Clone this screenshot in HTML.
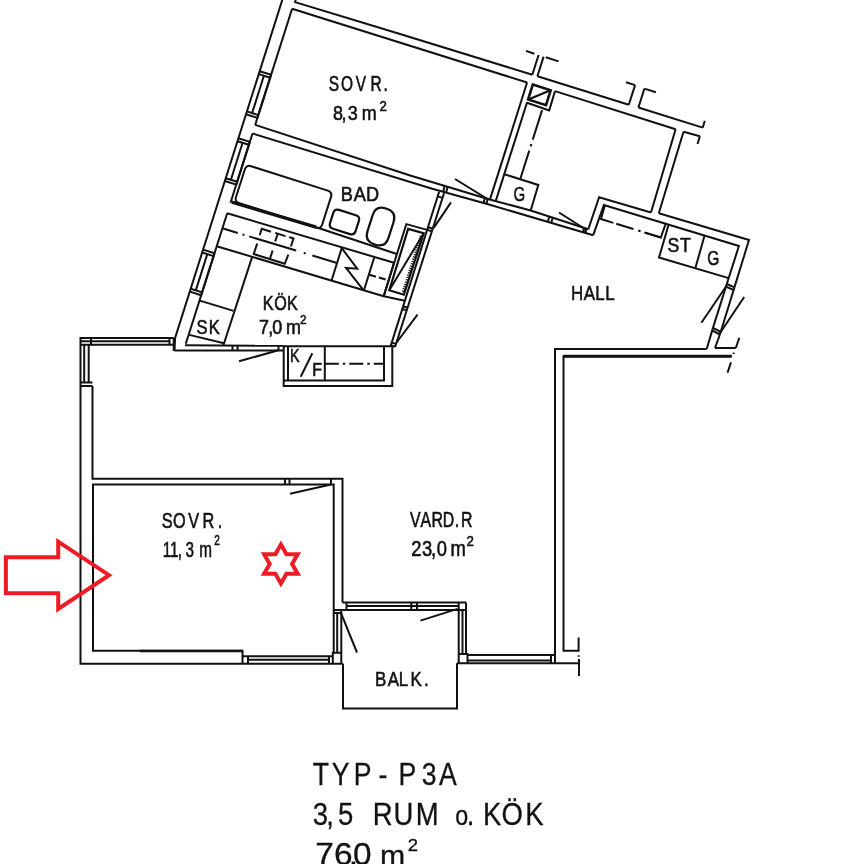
<!DOCTYPE html>
<html><head><meta charset="utf-8"><title>TYP-P3A</title>
<style>
html,body{margin:0;padding:0;background:#fff}
svg{display:block;will-change:transform}
text{font-family:"Liberation Sans",sans-serif;fill:#111}
</style></head><body>
<svg width="864" height="864" viewBox="0 0 864 864">
<g fill="none" stroke="#111" stroke-width="2.0" stroke-linecap="butt" stroke-linejoin="miter">
<polyline points="285.3,-9.6 175.1,337.9 174.5,350.6"/>
<polyline points="296.4,-2.9 295.1,2.1 397.6,33.2 532.3,74.8"/>
<line x1="532.3" y1="74.8" x2="538.6" y2="55.0"/>
<line x1="537.4" y1="76.2" x2="543.6" y2="56.6"/>
<line x1="537.4" y1="76.2" x2="628.8" y2="104.7"/>
<line x1="628.8" y1="104.7" x2="635.1" y2="85.1"/>
<line x1="638.4" y1="107.5" x2="644.4" y2="88.6"/>
<line x1="638.4" y1="107.5" x2="702.7" y2="127.6"/>
<line x1="702.7" y1="127.6" x2="704.8" y2="120.9"/>
<line x1="525.9" y1="50.9" x2="534.4" y2="53.7"/>
<line x1="545.8" y1="57.3" x2="558.6" y2="61.4"/>
<line x1="626.0" y1="82.2" x2="635.1" y2="85.1"/>
<line x1="644.4" y1="88.6" x2="655.9" y2="92.2"/>
<line x1="292.1" y1="8.8" x2="527.1" y2="82.5"/>
<line x1="555.0" y1="91.1" x2="675.6" y2="129.2"/>
<line x1="292.1" y1="8.8" x2="255.2" y2="124.9"/>
<polyline points="255.2,124.9 410.2,175.5 489.7,199.5 530.7,210.5 588.3,229.2"/>
<polyline points="252.5,133.5 432.2,188.8 487.2,204.0 593.2,235.2"/>
<line x1="252.5" y1="133.5" x2="230.5" y2="202.8"/>
<polyline points="227.2,213.2 185.8,343.8"/>
<line x1="259.7" y1="71.2" x2="271.1" y2="74.8"/>
<line x1="258.8" y1="74.1" x2="270.2" y2="77.7"/>
<line x1="246.0" y1="114.3" x2="257.4" y2="117.9"/>
<line x1="246.9" y1="111.4" x2="258.4" y2="115.1"/>
<line x1="263.9" y1="75.7" x2="252.1" y2="113.1"/>
<line x1="271.1" y1="74.8" x2="257.4" y2="117.9"/>
<line x1="238.4" y1="138.3" x2="249.8" y2="141.9"/>
<line x1="237.5" y1="141.2" x2="248.9" y2="144.8"/>
<line x1="224.8" y1="181.0" x2="236.3" y2="184.6"/>
<line x1="225.7" y1="178.2" x2="237.2" y2="181.8"/>
<line x1="242.6" y1="142.8" x2="230.9" y2="179.8"/>
<line x1="249.8" y1="141.9" x2="236.3" y2="184.6"/>
<line x1="203.1" y1="249.6" x2="214.5" y2="253.3"/>
<line x1="202.2" y1="252.5" x2="213.6" y2="256.1"/>
<line x1="189.8" y1="291.6" x2="201.2" y2="295.2"/>
<line x1="190.7" y1="288.7" x2="202.1" y2="292.4"/>
<line x1="207.3" y1="254.1" x2="195.8" y2="290.4"/>
<line x1="214.5" y1="253.3" x2="201.2" y2="295.2"/>
<line x1="527.1" y1="82.5" x2="490.0" y2="199.4"/>
<line x1="527.1" y1="102.2" x2="495.8" y2="200.9"/>
<polygon points="532.8,84.6 550.7,90.3 546.0,105.2 528.1,99.5" stroke-width="2.6"/>
<line x1="528.3" y1="99.6" x2="550.5" y2="90.2" stroke-width="2.2"/>
<polyline points="555.0,91.1 549.2,110.4 527.0,102.7"/>
<line x1="542.1" y1="110.1" x2="520.2" y2="179.2" stroke-dasharray="31 4.5 2.5 4.5 40"/>
<polyline points="504.3,174.2 538.3,185.0 530.7,210.5"/>
<line x1="675.6" y1="129.2" x2="651.0" y2="212.5"/>
<line x1="683.5" y1="131.8" x2="658.8" y2="213.2"/>
<line x1="683.5" y1="131.8" x2="699.9" y2="136.2"/>
<line x1="699.9" y1="136.2" x2="697.5" y2="144.0"/>
<polyline points="588.3,229.2 599.1,197.2 651.0,212.5"/>
<polyline points="658.8,213.2 749.0,240.0 734.5,287.1"/>
<polyline points="593.2,235.2 603.9,205.0 738.9,246.0 726.8,284.0"/>
<polyline points="604.9,205.3 601.0,219.0 613.4,222.9"/>
<line x1="616.2" y1="223.8" x2="661.2" y2="237.6" stroke-dasharray="18 5 2.5 4 40"/>
<polyline points="645.9,232.9 660.8,237.5 665.7,223.8"/>
<polyline points="668.6,224.7 659.0,257.5 728.7,278.1"/>
<line x1="704.5" y1="235.8" x2="695.3" y2="268.3"/>
<line x1="726.8" y1="284.0" x2="734.5" y2="287.3"/>
<line x1="725.9" y1="286.7" x2="733.6" y2="290.0"/>
<line x1="712.2" y1="330.4" x2="719.9" y2="334.5"/>
<line x1="713.0" y1="327.9" x2="720.8" y2="331.8"/>
<line x1="726.8" y1="284.0" x2="712.2" y2="330.4"/>
<line x1="734.5" y1="287.3" x2="719.9" y2="334.5"/>
<line x1="726.4" y1="286.0" x2="701.4" y2="322.8"/>
<line x1="744.2" y1="297.0" x2="719.9" y2="333.2"/>
<line x1="712.2" y1="330.4" x2="706.7" y2="349.0"/>
<line x1="719.9" y1="334.5" x2="715.0" y2="348.0"/>
<line x1="444.6" y1="186.0" x2="443.2" y2="191.8"/>
<line x1="447.5" y1="186.9" x2="446.1" y2="192.7"/>
<line x1="485.0" y1="197.8" x2="483.5" y2="203.1"/>
<line x1="487.8" y1="198.7" x2="486.4" y2="203.9"/>
<line x1="455.0" y1="179.0" x2="487.5" y2="199.0"/>
<line x1="549.3" y1="216.5" x2="547.8" y2="221.9"/>
<line x1="552.7" y1="217.6" x2="551.3" y2="222.9"/>
<line x1="584.1" y1="227.8" x2="582.9" y2="232.3"/>
<line x1="586.2" y1="228.5" x2="585.0" y2="232.9" stroke-width="2.6"/>
<line x1="559.0" y1="212.5" x2="585.0" y2="229.0"/>
<line x1="439.1" y1="191.7" x2="390.9" y2="345.4"/>
<line x1="444.0" y1="193.3" x2="395.1" y2="346.8"/>
<line x1="437.7" y1="196.4" x2="442.5" y2="197.9"/>
<line x1="428.1" y1="227.2" x2="432.7" y2="228.7"/>
<line x1="427.2" y1="229.9" x2="431.9" y2="231.4"/>
<line x1="403.2" y1="306.3" x2="407.6" y2="307.7"/>
<line x1="402.4" y1="309.0" x2="406.7" y2="310.4"/>
<line x1="391.8" y1="342.6" x2="396.0" y2="343.9"/>
<line x1="390.9" y1="345.4" x2="395.1" y2="346.8"/>
<line x1="451.0" y1="202.4" x2="433.7" y2="227.9"/>
<line x1="417.5" y1="314.7" x2="396.6" y2="342.5"/>
<path d="M251.0 166.2 L327.8 190.6 Q332.5 192.1 331.0 196.9 L322.3 224.3 Q320.8 229.1 316.0 227.6 L239.3 203.2 Q234.5 201.7 236.0 197.0 L244.8 169.5 Q246.3 164.7 251.0 166.2 Z"/>
<line x1="231.8" y1="202.1" x2="316.2" y2="227.2" stroke-width="3.4"/>
<line x1="316.2" y1="227.2" x2="396.8" y2="254.0"/>
<path d="M339.0 209.9 L355.9 215.3 Q360.2 216.6 358.9 220.9 L355.6 231.2 Q354.2 235.5 349.9 234.1 L333.0 228.7 Q328.7 227.4 330.0 223.1 L333.3 212.8 Q334.7 208.5 339.0 209.9 Z" stroke-width="2.2"/>
<path d="M385.8 208.5 L386.7 208.8 Q396.7 211.9 393.6 222.0 L388.5 237.9 Q385.3 247.9 375.3 244.7 L374.4 244.4 Q364.4 241.2 367.5 231.2 L372.6 215.3 Q375.8 205.3 385.8 208.5 Z" stroke-width="2.2"/>
<line x1="227.2" y1="213.2" x2="394.0" y2="262.8"/>
<line x1="222.4" y1="228.3" x2="336.2" y2="262.7" stroke-dasharray="16 5 2 5 49 8 2 7 40"/>
<line x1="216.7" y1="246.2" x2="383.7" y2="296.3"/>
<polyline points="259.7,235.3 261.7,228.8 271.0,231.7"/>
<line x1="275.2" y1="232.9" x2="285.5" y2="236.1"/>
<line x1="277.7" y1="233.7" x2="275.2" y2="241.5"/>
<polyline points="289.1,237.1 293.5,238.5 290.9,246.5"/>
<polyline points="257.2,243.6 253.7,254.0 284.8,263.8 288.3,254.7"/>
<line x1="272.6" y1="250.5" x2="270.0" y2="258.7"/>
<line x1="341.7" y1="248.1" x2="331.5" y2="280.8"/>
<line x1="374.1" y1="257.8" x2="363.8" y2="290.7"/>
<polyline points="341.7,248.1 357.2,268.7 346.0,267.9 363.8,290.7"/>
<line x1="394.0" y1="262.8" x2="383.7" y2="296.3"/>
<line x1="369.3" y1="274.7" x2="388.4" y2="280.4" stroke-dasharray="7 3"/>
<polyline points="427.1,229.9 406.3,224.1 383.7,296.3 404.9,300.7"/>
<polygon points="408.1,228.9 423.7,233.2 403.9,294.7 389.3,290.3" stroke-width="2.2"/>
<line x1="423.7" y1="233.2" x2="389.3" y2="290.3"/>
<line x1="421.0" y1="235.9" x2="403.0" y2="292.1" stroke-width="2.6" stroke-dasharray="1.2 1.2"/>
<line x1="252.1" y1="257.1" x2="223.4" y2="345.3"/>
<line x1="199.8" y1="300.6" x2="233.6" y2="310.9"/>
<line x1="189.3" y1="334.9" x2="224.0" y2="343.3"/>
<line x1="185.0" y1="345.3" x2="283.7" y2="345.8"/>
<line x1="174.5" y1="350.6" x2="283.7" y2="350.6"/>
<line x1="232.5" y1="345.5" x2="232.5" y2="351.0"/>
<line x1="237.6" y1="345.5" x2="237.6" y2="351.0"/>
<line x1="278.5" y1="345.8" x2="278.5" y2="351.0"/>
<line x1="239.0" y1="361.3" x2="278.3" y2="350.3"/>
<polyline points="283.7,345.5 283.7,386.0 392.3,386.0 392.3,347.0"/>
<polyline points="283.7,346.3 392.3,346.3"/>
<polyline points="288.0,346.3 288.0,380.6"/>
<polyline points="283.7,380.6 384.0,380.6 384.0,346.3"/>
<line x1="324.8" y1="346.3" x2="324.8" y2="380.6"/>
<line x1="324.8" y1="363.8" x2="384.0" y2="363.8" stroke-dasharray="14 4 2.5 4"/>
<line x1="312.3" y1="353.3" x2="300.7" y2="376.7"/>
<line x1="390.9" y1="345.4" x2="390.3" y2="346.0"/>
<line x1="395.1" y1="346.8" x2="395.6" y2="346.0"/>
<polyline points="173.7,338.0 80.5,338.0 80.5,663.7 242.5,663.7"/>
<line x1="80.5" y1="341.3" x2="169.5" y2="341.3"/>
<line x1="91.0" y1="344.7" x2="173.7" y2="344.7"/>
<line x1="169.5" y1="338.0" x2="169.5" y2="344.7"/>
<line x1="173.7" y1="338.0" x2="173.7" y2="351.0"/>
<polyline points="91.0,338.0 91.0,344.7 80.5,344.7"/>
<line x1="84.2" y1="344.7" x2="84.2" y2="382.5"/>
<line x1="88.7" y1="344.7" x2="88.7" y2="382.5"/>
<line x1="80.5" y1="382.5" x2="92.5" y2="382.5"/>
<line x1="80.5" y1="386.0" x2="92.5" y2="386.0"/>
<polyline points="92.5,386.0 92.5,478.7 342.5,478.7 342.5,602.5"/>
<polyline points="333.7,610.0 333.7,484.5 93.0,484.5 93.0,650.7 242.5,650.7 242.5,663.7"/>
<line x1="285.0" y1="478.7" x2="285.0" y2="484.5"/>
<line x1="289.5" y1="478.7" x2="289.5" y2="484.5"/>
<line x1="331.0" y1="478.7" x2="331.0" y2="484.5"/>
<line x1="290.0" y1="493.7" x2="331.0" y2="484.5"/>
<line x1="242.5" y1="656.2" x2="332.5" y2="656.2"/>
<line x1="248.0" y1="659.8" x2="329.0" y2="659.8"/>
<line x1="242.5" y1="663.7" x2="343.0" y2="663.7"/>
<line x1="248.0" y1="656.2" x2="248.0" y2="663.7"/>
<line x1="329.0" y1="656.2" x2="329.0" y2="663.7"/>
<line x1="140.0" y1="651.0" x2="242.5" y2="651.0" stroke-width="2.7"/>
<polyline points="332.8,663.7 332.8,652.7 341.3,652.7"/>
<line x1="333.7" y1="610.0" x2="342.5" y2="610.0"/>
<line x1="333.7" y1="613.0" x2="341.3" y2="613.0"/>
<line x1="337.2" y1="613.0" x2="337.2" y2="652.7"/>
<line x1="341.3" y1="610.0" x2="341.3" y2="663.7"/>
<line x1="333.7" y1="610.0" x2="333.7" y2="652.7"/>
<line x1="341.2" y1="613.7" x2="357.0" y2="652.5"/>
<line x1="342.5" y1="602.5" x2="466.0" y2="602.5"/>
<line x1="346.5" y1="606.0" x2="458.7" y2="606.0"/>
<line x1="342.5" y1="610.0" x2="458.7" y2="610.0"/>
<line x1="346.5" y1="602.5" x2="346.5" y2="610.0"/>
<line x1="411.3" y1="602.5" x2="411.3" y2="610.0"/>
<line x1="417.0" y1="602.5" x2="417.0" y2="610.0"/>
<polyline points="458.7,602.5 458.7,610.0 466.0,610.0"/>
<line x1="420.5" y1="620.6" x2="457.5" y2="608.9"/>
<line x1="458.7" y1="610.0" x2="458.7" y2="663.3"/>
<line x1="462.5" y1="610.0" x2="462.5" y2="654.0"/>
<line x1="466.0" y1="602.5" x2="466.0" y2="654.0"/>
<polyline points="458.7,654.0 467.5,654.0 467.5,663.3"/>
<polyline points="343.0,663.7 343.0,708.5 457.0,708.5 457.0,663.3"/>
<line x1="467.5" y1="655.0" x2="555.0" y2="655.0"/>
<line x1="467.5" y1="660.6" x2="551.0" y2="660.6"/>
<line x1="457.0" y1="663.3" x2="579.0" y2="663.3"/>
<line x1="551.0" y1="655.0" x2="551.0" y2="663.3"/>
<polyline points="706.7,349.0 555.0,349.0 555.0,663.3"/>
<polyline points="731.7,356.2 563.5,356.2 563.5,650.8 578.6,650.8 578.6,637.5"/>
<line x1="563.5" y1="356.2" x2="731.7" y2="356.2" stroke-width="2.9"/>
<line x1="579.0" y1="659.0" x2="579.0" y2="676.0"/>
<line x1="578.6" y1="655.3" x2="578.6" y2="656.8"/>
<line x1="715.0" y1="348.0" x2="735.8" y2="348.0"/>
<line x1="735.8" y1="348.0" x2="739.3" y2="337.8"/>
<line x1="731.0" y1="362.4" x2="727.5" y2="372.8"/>
<line x1="733.4" y1="354.0" x2="733.9" y2="352.6"/>
</g>
<g style="opacity:0.995">
<text transform="scale(0.729,1)" x="451.0 467.6 488.1 508.1 525.9" y="90.9" font-size="21.2" stroke="#111" stroke-width="0.6">SOVR.</text>
<text transform="scale(0.859,1)" x="387.6 397.7 404.9 416.5 421.0" y="119.6" font-size="20.9" stroke="#111" stroke-width="0.6">8,3 m<tspan x="441.7" y="111.3" font-size="15.3">2</tspan></text>
<text transform="scale(0.930,1)" x="366.3 380.4 393.5" y="201.0" font-size="19.5" stroke="#111" stroke-width="0.6">BAD</text>
<text transform="scale(0.803,1)" x="327.1 341.5 357.3" y="309.9" font-size="20.1" stroke="#111" stroke-width="0.6">KÖK</text>
<text transform="scale(0.920,1)" x="281.6 291.5 296.0 306.8 310.8" y="334.4" font-size="19.5" stroke="#111" stroke-width="0.6">7,0 m<tspan x="326.1" y="324.2" font-size="12.8">2</tspan></text>
<text transform="scale(0.835,1)" x="235.2 250.1" y="334.0" font-size="19.8" stroke="#111" stroke-width="0.6">SK</text>
<text transform="scale(0.759,1)" x="382.0" y="362.1" font-size="19.0" stroke="#111" stroke-width="0.6">K</text>
<text transform="scale(0.878,1)" x="355.6" y="376.0" font-size="18.2" stroke="#111" stroke-width="0.6">F</text>
<text transform="scale(0.733,1)" x="700.6" y="200.6" font-size="20.6" stroke="#111" stroke-width="0.6">G</text>
<text transform="scale(0.839,1)" x="795.6 810.5" y="252.2" font-size="21.1" stroke="#111" stroke-width="0.6">ST</text>
<text transform="scale(0.745,1)" x="949.2" y="264.6" font-size="20.9" stroke="#111" stroke-width="0.6">G</text>
<text transform="scale(0.820,1)" x="696.3 711.8 725.8 738.1" y="299.6" font-size="20.6" stroke="#111" stroke-width="0.6">HALL</text>
<text transform="scale(0.752,1)" x="215.1 230.0 250.3 269.3 289.5" y="528.1" font-size="21.7" stroke="#111" stroke-width="0.6">SOVR.</text>
<text transform="scale(0.720,1)" x="226.0 236.2 247.0 257.8 269.6 276.6" y="556.8" font-size="21.2" stroke="#111" stroke-width="0.6">11,3 m<tspan x="297.7" y="544.8" font-size="14.0">2</tspan></text>
<text transform="scale(0.749,1)" x="547.4 561.3 576.0 591.3 607.1 615.4" y="527.5" font-size="21.2" stroke="#111" stroke-width="0.6">VARD.R</text>
<text transform="scale(0.866,1)" x="475.0 487.3 497.7 504.4 516.2 520.1" y="556.0" font-size="21.2" stroke="#111" stroke-width="0.6">23,0 m<tspan x="538.7" y="545.6" font-size="15.3">2</tspan></text>
<text transform="scale(0.810,1)" x="463.1 478.6 492.3 506.9 523.5" y="686.4" font-size="20.9" stroke="#111" stroke-width="0.6">BALK.</text>
<text transform="scale(0.839,1)" x="372.8 395.3 421.6 451.2 475.0 502.7 523.2" y="785.0" font-size="31.7" stroke="#111" stroke-width="0.3">TYP-P3A</text>
<text transform="scale(0.867,1)" x="360.7 376.3 389.8 407.4 429.9 454.0 479.4 505.8 525.1 538.4 547.2 557.0 578.3 605.7" y="824.8" font-size="31.7" stroke="#111" stroke-width="0.3">3,5 RUM <tspan font-size="26.9">o</tspan>. KÖK</text>
<text transform="scale(1.061,1)" x="297.1 314.9 328.7 332.8 350.3 358.2" y="865.3" font-size="31.5" stroke="#111" stroke-width="0.3">76,0 <tspan font-size="28.5">m</tspan><tspan x="384.4" y="851.3" font-size="17.4">2</tspan></text>
</g>
<g fill="none" stroke="#ed1c24" stroke-linejoin="miter">
<polygon points="5.9,557.3 58.2,557.3 58.2,541.7 109,575.2 58.2,609 58.2,593.3 5.9,593.3" stroke-width="4"/>
<polygon points="280.9,544.6 286.5,554.3 297.7,554.3 292.1,564.0 297.7,573.7 286.5,573.7 280.9,583.4 275.3,573.7 264.1,573.7 269.7,564.0 264.1,554.3 275.3,554.3" stroke-width="4"/>
</g>
</svg>
</body></html>
